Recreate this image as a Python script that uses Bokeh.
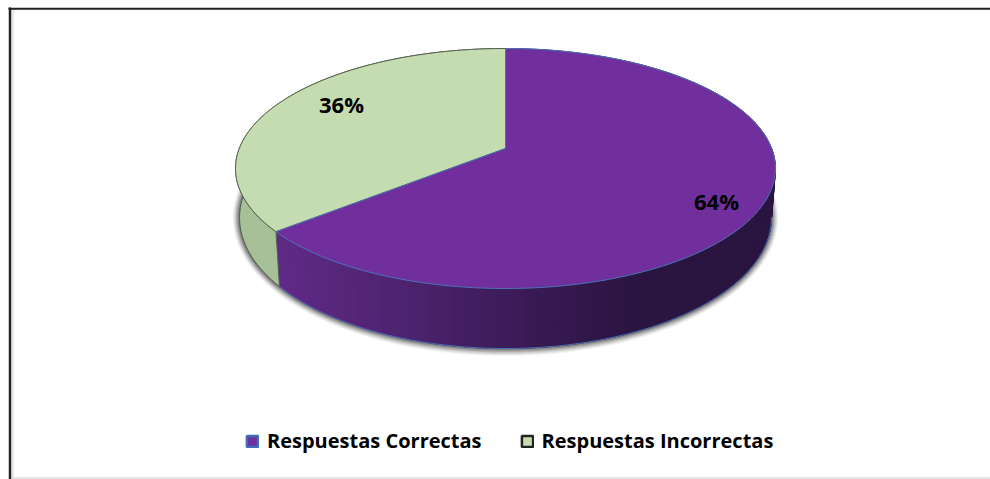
import numpy as np
from bokeh.core.properties import value
from bokeh.embed import file_html
from bokeh.models import Legend, LegendItem, Range1d
from bokeh.plotting import figure
from bokeh.resources import INLINE

# Data
slices = ["Respuestas Correctas", "Respuestas Incorrectas"]
values = [64, 36]

# Style
top_colors = ["#702f9d", "#c4dcb0"]
edge_colors = ["#4a73b5", "#55604f"]
legend_edges = ["#3f6eb5", "#222222"]
green_side = "#a8c098"
purple_side_left = np.array([0x5f, 0x2a, 0x86])
purple_side_right = np.array([0x2a, 0x14, 0x40])

# Layout, in reference pixels
CX, APEX_Y = 505.0, 148.0
K, B = 1 / 6, 116.67
A = 266.2
SIDE_SX, SIDE_SY, SIDE_Y0 = 0.985, 1.09, 195.4


def top_pt(theta):
    u, v = np.sin(theta), -np.cos(theta)
    d = 1 - K * v
    return CX + A * u / d, APEX_Y + B * v / d


def bottom_pt(theta, grow=0.0):
    x, y = top_pt(theta)
    bx = CX + (x - CX) * SIDE_SX
    by = SIDE_Y0 + (y - APEX_Y) * SIDE_SY
    if grow:
        cy = SIDE_Y0 + 20 * SIDE_SY
        bx = CX + (bx - CX) * (1 + grow / 265)
        by = cy + (by - cy) * (1 + grow / 120)
    return bx, by


p = figure(width=990, height=479, output_backend="svg", toolbar_location=None,
           x_range=Range1d(0, 990), y_range=Range1d(479, 0),
           min_border=0, outline_line_color=None)
p.axis.visible = False
p.grid.visible = False

# Frame of the picture
p.line([12.2, 12.2], [9, 479], line_color="#e4e4e4", line_width=2)
p.line([9.5, 9.5], [7, 479], line_color="#222222", line_width=2.5)
p.line([8, 990], [8.2, 8.2], line_color="#222222", line_width=2)
p.line([11, 990], [477.5, 477.5], line_color="#dddddd", line_width=1.5)

# Angles from the values
total = sum(values)
fractions = np.cumsum([0] + values) / total * 2 * np.pi
a0, a1, a2 = fractions

# Shadow below the side wall
ring = np.linspace(0, 2 * np.pi, 241)
for g, alpha in zip([7, 6, 5, 4, 3, 2, 1], [0.04, 0.06, 0.08, 0.10, 0.12, 0.14, 0.16]):
    sx, sy = bottom_pt(ring, g)
    p.patch(sx, sy, fill_color="#000000", fill_alpha=alpha, line_color=None)

# Side wall: purple strips shaded by position, then the green wall
edges = np.linspace(a0, a1, 121)
xs, ys, cols = [], [], []
for t0, t1 in zip(edges[:-1], edges[1:]):
    x0, y0 = top_pt(t0); x1, y1 = top_pt(t1)
    x2, y2 = bottom_pt(t1); x3, y3 = bottom_pt(t0)
    xs.append([x0, x1, x2, x3]); ys.append([y0, y1, y2, y3])
    f = np.clip((640 - (x0 + x1) / 2) / (640 - 285), 0, 1)
    c = purple_side_right + (purple_side_left - purple_side_right) * f
    cols.append("#%02x%02x%02x" % tuple(int(v) for v in c))
p.patches(xs, ys, fill_color=cols, line_color=cols, line_width=1)

gt = np.linspace(a1, a2, 80)
gx, gy = top_pt(gt)
hx, hy = bottom_pt(gt)
p.patch(np.r_[gx, hx[::-1]], np.r_[gy, hy[::-1]], fill_color=green_side,
        line_color="#55604f", line_width=1)

# Bottom rim of the purple wall, its visible part only
bt = np.linspace(a0, a1, 300)
bx, by = bottom_pt(bt)
vis = int(np.argmax(bx))
p.line(bx[vis:], by[vis:], line_color=edge_colors[0], line_width=1)

# Top faces
for i in (1, 0):
    t = np.linspace(fractions[i], fractions[i + 1], 200)
    tx, ty = top_pt(t)
    p.patch(np.r_[CX, tx, CX], np.r_[APEX_Y, ty, APEX_Y],
            fill_color=top_colors[i], line_color=edge_colors[i], line_width=1)

# Percent labels
label_x = [716, 341]
label_y = [200, 103]
p.text(label_x, label_y, text=[f"{v}%" for v in values], text_color="#000000",
       text_font=value("Open Sans"), text_font_style="bold", text_font_size="22px",
       text_align="center", text_baseline="middle")

# Legend, with keys of its own that lie outside the visible range
keys = [p.patch([-30, -20, -20], [-30, -30, -20], fill_color=c, line_color=e, line_width=2.5)
        for c, e in zip(top_colors, legend_edges)]
legend = Legend(
    items=[LegendItem(label=value(s), renderers=[r]) for s, r in zip(slices, keys)],
    orientation="horizontal", location=(245, 25),
    label_text_font="Open Sans", label_text_font_style="bold", label_text_font_size="20px",
    label_text_color="#000000", glyph_width=14, glyph_height=14, label_standoff=8,
    spacing=38, padding=0, margin=0, border_line_color=None, background_fill_alpha=0,
)
p.add_layout(legend)

open("out.html", "w").write(file_html(p, INLINE))
